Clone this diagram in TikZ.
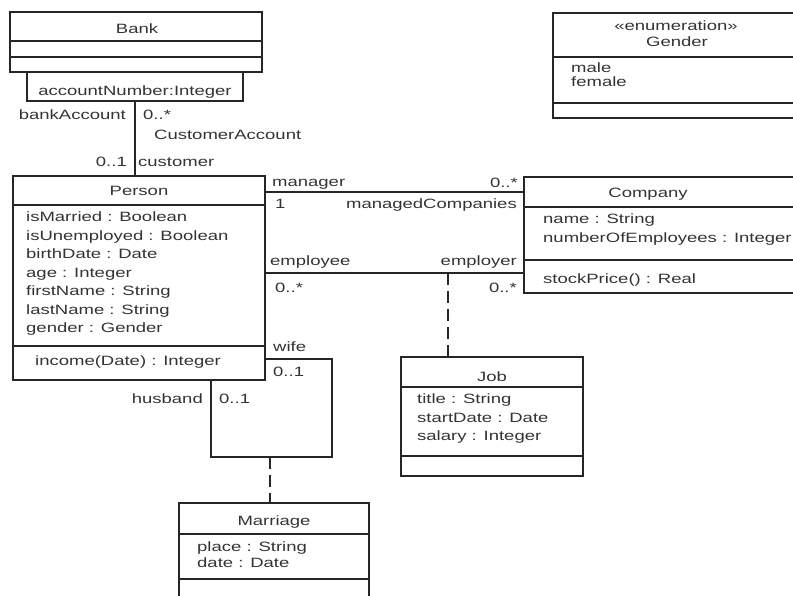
\documentclass[tikz,border=0pt]{standalone}
\usepackage{fontspec}
\setmainfont{Liberation Sans}[FakeStretch=1.37]
\usepackage{tikz}
\usetikzlibrary{positioning}
\tikzstyle{cls} = [rectangle, draw=black!85, line width=1.3pt, anchor=north west, inner sep=0pt, outer sep=0pt]
\tikzstyle{cmp} = [draw=black!85, line width=1.3pt]
\tikzset{
 txt/.style
  = {font=\fontsize{13.5}{18.5}\selectfont, text=black!80, inner sep=0pt},
 nm/.style
  = {txt, anchor=base},
 attr/.style
  = {txt, align=left, anchor=north west},
 lw/.style
  = {txt, anchor=base west},
 le/.style
  = {txt, anchor=base east},
 ln/.style
  = {draw=black!85, line width=1.3pt},
 dd/.style
  = {draw=black!85, line width=1.3pt, dash pattern=on 12pt off 6pt},
}

\begin{document}
\begin{tikzpicture}[x=1pt, y=-1pt]

\useasboundingbox (0,0) rectangle (793,595);
\clip (0,0) rectangle (793,595);

% Bank with qualifier
\node[cls, minimum width=252pt, minimum height=60pt] (bank) at (10,12) {};
\draw[cmp] (bank.west |- 0,41) -- (bank.east |- 0,41);
\draw[cmp] (bank.west |- 0,57) -- (bank.east |- 0,57);
\node[nm] (bankname) at (137,33) {Bank};
\node[cls, minimum width=216pt, minimum height=29pt] (qual) at (27,72) {};
\node[nm] (qualtext) at (135,95) {accountNumber:Integer};

% Gender
\node[cls, minimum width=247pt, minimum height=105pt] (gender) at (553,13) {};
\draw[cmp] (gender.west |- 0,57) -- (gender.east |- 0,57);
\draw[cmp] (gender.west |- 0,103) -- (gender.east |- 0,103);
\node[nm] (genderstereo) at (676,30) {«enumeration»};
\node[nm] (gendername) at (677,46) {Gender};
\node[attr, font=\fontsize{13.5}{14}\selectfont] (genderlits) at (571,63) {male\\female};

% Person
\node[cls, minimum width=252pt, minimum height=204pt] (person) at (13,176) {};
\draw[cmp] (person.west |- 0,205) -- (person.east |- 0,205);
\draw[cmp] (person.west |- 0,346) -- (person.east |- 0,346);
\node[nm] (personname) at (139,195) {Person};
\node[attr] (personattrs) at (26,212) {isMarried : Boolean\\isUnemployed : Boolean\\birthDate : Date\\age : Integer\\firstName : String\\lastName : String\\gender : Gender};
\node[lw] (personops) at (35,365) {income(Date) : Integer};

% Company
\node[cls, minimum width=276pt, minimum height=116pt] (company) at (524,177) {};
\draw[cmp] (company.west |- 0,207) -- (company.east |- 0,207);
\draw[cmp] (company.west |- 0,260) -- (company.east |- 0,260);
\node[nm] (companyname) at (648,197) {Company};
\node[attr, font=\fontsize{13.5}{19}\selectfont] (companyattrs) at (543,214) {name : String\\numberOfEmployees : Integer};
\node[lw] (companyops) at (543,283) {stockPrice() : Real};

% Job
\node[cls, minimum width=182pt, minimum height=119pt] (job) at (401,357) {};
\draw[cmp] (job.west |- 0,387) -- (job.east |- 0,387);
\draw[cmp] (job.west |- 0,456) -- (job.east |- 0,456);
\node[nm] (jobname) at (492,381) {Job};
\node[attr] (jobattrs) at (417,394) {title : String\\startDate : Date\\salary : Integer};

% Marriage
\node[cls, minimum width=190pt, minimum height=107pt] (marriage) at (179,503) {};
\draw[cmp] (marriage.west |- 0,534) -- (marriage.east |- 0,534);
\draw[cmp] (marriage.west |- 0,579) -- (marriage.east |- 0,579);
\node[nm] (marriagename) at (274,525) {Marriage};
\node[attr, font=\fontsize{13.5}{16}\selectfont] (marriageattrs) at (197,542) {place : String\\date : Date};

% Associations
\draw[ln] (qual.south) -- (qual.south |- person.north);
\draw[ln] (person.east |- 0,192) -- (company.west |- 0,192);
\draw[ln] (person.east |- 0,273) -- (company.west |- 0,273);
\draw[ln] (person.east |- 0,359) -- (332,359) -- (332,457) -- (211,457) -- (person.south -| 211,0);

% Association classes
\coordinate (jobtie) at (448,273);
\draw[dd] (jobtie) -- (jobtie |- job.north);
\coordinate (marrtie) at (270,457);
\draw[dd] (marrtie) -- (marrtie |- marriage.north);

% Role names and multiplicities
\node[le] (bankrole) at (126,119) {bankAccount};
\node[lw] (bankmult) at (143,119) {0..*};
\node[lw] (custacc) at (154,139) {CustomerAccount};
\node[le] (custmult) at (127,166) {0..1};
\node[lw] (custrole) at (138,166) {customer};
\node[lw] (mgrrole) at (272,186) {manager};
\node[le] (mgdmult) at (518,187) {0..*};
\node[lw] (mgrmult) at (275,208) {1};
\node[le] (mgdrole) at (517,208) {managedCompanies};
\node[lw] (emperole) at (270,265) {employee};
\node[le] (emprrole) at (517,265) {employer};
\node[lw] (empemult) at (275,292) {0..*};
\node[le] (empmult) at (517,292) {0..*};
\node[lw] (wiferole) at (273,351) {wife};
\node[lw] (wifemult) at (273,376) {0..1};
\node[le] (husbrole) at (203,403) {husband};
\node[lw] (husbmult) at (219,403) {0..1};

\end{tikzpicture}
\end{document}
